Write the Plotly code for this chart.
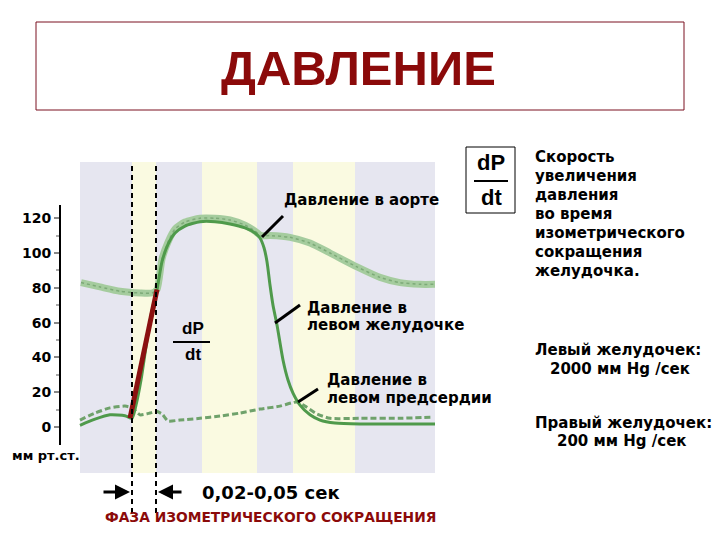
import plotly.graph_objects as go

# ---------------- data (time in ms, pressure in mm Hg) ----------------
vent_t = [0, 30, 60, 90, 104, 112, 122, 134, 144, 154, 164, 176, 190, 210, 240, 270, 300, 330, 350,
          360, 368, 374, 380, 386, 394, 406, 416, 426, 440, 460, 480, 510, 560, 640, 710]
vent_p = [1, 4.5, 7, 6.5, 5, 12.6, 27, 50, 67, 79, 95, 105, 111.5, 115.5, 118, 118, 116.7, 114.4, 111.5,
          108.6, 103, 95, 81.6, 70, 58.6, 38.5, 27, 19.5, 12.6, 7, 4, 2.3, 1.7, 1.7, 1.7]

aorta_t = [2, 40, 80, 120, 144, 154, 164, 176, 190, 210, 240, 270, 300, 330, 350, 362, 380, 420,
           460, 500, 554, 600, 640, 680, 710]
aorta_p = [83, 80.5, 78, 77, 77, 79, 96.5, 106.3, 113.8, 117.8, 120, 120, 119, 116, 112.6, 110, 110, 109,
           105.7, 100, 92, 86, 83, 82, 82]

atrium_t = [0, 30, 60, 90, 104, 120, 140, 152, 164, 176, 200, 240, 280, 320, 360, 400, 434, 450, 474,
            500, 560, 640, 706]
atrium_p = [4, 8, 11, 12, 11, 7, 8, 9, 7.5, 3.5, 4, 5, 6.3, 8, 10.3, 12, 14.4, 12, 7.5,
            5, 5, 5, 5.7]

tangent_t = [100, 154]
tangent_p = [5, 79]

y_ticks = [0, 20, 40, 60, 80, 100, 120]
y_minor = [10, 30, 50, 70, 90, 110]

# background phases (ms): (start, end, kind)
phases = [(0, 104, "lav"), (104, 152, "yel"), (152, 244, "lav"), (244, 354, "yel"),
          (354, 426, "lav"), (426, 550, "yel"), (550, 710, "lav")]
phase_lines = [104, 152]

# ---------------- layout helpers (screen pixel -> paper) ----------------
OFF = 8                      # page body margin
W, H = 720 - OFF, 540 - OFF
L = 60 - OFF
def px(x):
    return (x - OFF - L) / (W - L)
def py(y):
    return 1 - (y - OFF) / H

LAV = "#E6E6F0"
YEL = "#FAFAE1"
FONT = "DejaVu Sans"
FS = 15

fig = go.Figure()

fig.add_trace(go.Scatter(x=aorta_t, y=aorta_p, mode="lines",
                         line=dict(color="#A5CC9E", width=7, shape="spline", smoothing=0.6),
                         hoverinfo="skip"))
fig.add_trace(go.Scatter(x=aorta_t, y=aorta_p, mode="lines",
                         line=dict(color="#7DAA78", width=1.5, dash="dot", shape="spline", smoothing=0.6),
                         hoverinfo="skip"))
fig.add_trace(go.Scatter(x=atrium_t, y=atrium_p, mode="lines",
                         line=dict(color="#6FA26B", width=3, dash="6px,3px", shape="spline", smoothing=0.6),
                         hoverinfo="skip"))
fig.add_trace(go.Scatter(x=vent_t, y=vent_p, mode="lines",
                         line=dict(color="#4F9A4B", width=3, shape="spline", smoothing=0.6),
                         hoverinfo="skip"))
fig.add_trace(go.Scatter(x=tangent_t, y=tangent_p, mode="lines",
                         line=dict(color="#8B1010", width=5), hoverinfo="skip"))

shapes = []
for a, b, k in phases:
    shapes.append(dict(type="rect", xref="x", yref="y", x0=a, x1=b, y0=-26.4, y1=152.3,
                       fillcolor=LAV if k == "lav" else YEL, line=dict(width=0), layer="below"))
for xv in phase_lines:
    shapes.append(dict(type="line", xref="x", yref="y", x0=xv, x1=xv, y0=-49.4, y1=152.3,
                       line=dict(color="black", width=2, dash="5px,4px")))
# y axis line
shapes.append(dict(type="line", xref="paper", yref="y", x0=0, x1=0, y0=-10.3, y1=127.6,
                   line=dict(color="black", width=2)))
# pointer lines
for (x0, y0, x1, y1) in [(364, 109.2, 406, 121.3), (390, 59.8, 440, 70.1), (436, 14.4, 476, 21.8)]:
    shapes.append(dict(type="line", xref="x", yref="y", x0=x0, y0=y0, x1=x1, y1=y1,
                       line=dict(color="black", width=3)))
# title box
shapes.append(dict(type="rect", xref="paper", yref="paper", x0=px(36), x1=px(684), y0=py(110), y1=py(22),
                   line=dict(color="#7A1020", width=1)))
# dP/dt box and fraction bars
shapes.append(dict(type="rect", xref="paper", yref="paper", x0=px(466), x1=px(515), y0=py(213), y1=py(147),
                   line=dict(color="black", width=1)))
shapes.append(dict(type="line", xref="paper", yref="paper", x0=px(474), x1=px(508), y0=py(181), y1=py(181),
                   line=dict(color="black", width=2)))
shapes.append(dict(type="line", xref="paper", yref="paper", x0=px(173), x1=px(210), y0=py(342), y1=py(342),
                   line=dict(color="black", width=2)))

ann = []
def text(x, y, s, size=FS, color="black", family=FONT, xanchor="left", weight="bold"):
    ann.append(dict(x=px(x), y=py(y), xref="paper", yref="paper", text=s, showarrow=False,
                    xanchor=xanchor, yanchor="middle",
                    font=dict(family=family, size=size, color=color, weight=weight)))

text(358, 68, "ДАВЛЕНИЕ", size=49, color="#8B0A0A", family="Liberation Sans", xanchor="center")
text(282, 200, "Давление в аорте")
text(305, 308, "Давление в")
text(305, 325, "левом желудочке")
text(325, 380, "Давление в")
text(325, 398, "левом предсердии")
text(491, 163, "dP", size=22, xanchor="center", family="Liberation Sans")
text(491, 197, "dt", size=22, xanchor="center", family="Liberation Sans")
text(193, 328, "dP", size=17, xanchor="center", family="Liberation Sans")
text(193, 354, "dt", size=17, xanchor="center", family="Liberation Sans")
right_lines = ["Скорость", "увеличения", "давления", "во время", "изометрического", "сокращения", "желудочка."]
for i, s in enumerate(right_lines):
    text(533, 157 + 19 * i, s)
text(533, 350, "Левый желудочек:")
text(548, 369, "2000 мм Hg /сек")
text(533, 423, "Правый желудочек:")
text(555, 441, "200 мм Hg /сек")
text(200, 492, "0,02-0,05 сек", size=18)
text(270, 517, "ФАЗА ИЗОМЕТРИЧЕСКОГО СОКРАЩЕНИЯ", size=13.8, color="#8B0A0A", xanchor="center")
text(10, 455, "мм рт.ст.", size=13)

# arrows
ann.append(dict(x=100, y=-37.4, ax=44, ay=-37.4, xref="x", yref="y", axref="x", ayref="y",
                text="", showarrow=True, arrowhead=2, arrowsize=1, arrowwidth=3, arrowcolor="black"))
ann.append(dict(x=156, y=-37.4, ax=206, ay=-37.4, xref="x", yref="y", axref="x", ayref="y",
                text="", showarrow=True, arrowhead=2, arrowsize=1, arrowwidth=3, arrowcolor="black"))

y0px = 427 - OFF
fig.update_layout(
    width=W, height=H, margin=dict(l=L, r=0, t=0, b=0),
    paper_bgcolor="white", plot_bgcolor="white", showlegend=False,
    shapes=shapes, annotations=ann,
    xaxis=dict(range=[-40, 1280], visible=False, showgrid=False, zeroline=False),
    yaxis=dict(range=[-(H - y0px) / 1.74, y0px / 1.74], tickvals=y_ticks, ticktext=[str(v) for v in y_ticks],
               ticks="outside", ticklen=5, tickcolor="#888888", tickwidth=2,
               showgrid=False, zeroline=False, showline=False,
               tickfont=dict(family=FONT, size=14, color="black", weight="bold"),
               minor=dict(tickvals=y_minor, ticks="outside", ticklen=3, tickcolor="#AAAAAA")),
)
fig.write_html("out.html")
